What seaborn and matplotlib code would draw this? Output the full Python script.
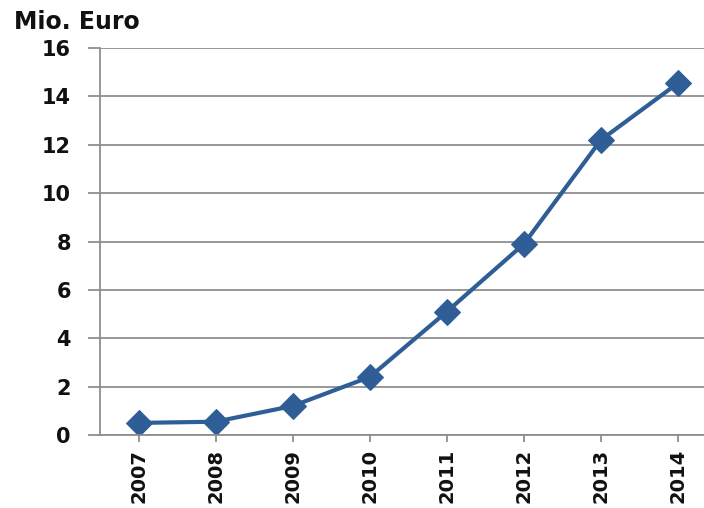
import matplotlib
matplotlib.use("Agg")
import matplotlib.pyplot as plt
import seaborn as sns
import pandas as pd

years = ["2007", "2008", "2009", "2010", "2011", "2012", "2013", "2014"]
values = [0.5, 0.55, 1.2, 2.4, 5.1, 7.9, 12.2, 14.55]
y_ticks = [0, 2, 4, 6, 8, 10, 12, 14, 16]

sns.set_theme(style="white")
plt.rcParams["font.family"] = ["DejaVu Sans"]

df = pd.DataFrame({"pos": range(len(years)), "year": years, "value": values})

fig = plt.figure(figsize=(7.04, 5.08), dpi=100)
ax = fig.add_axes([100 / 704, 1 - 435 / 508, (716.6 - 100) / 704, (435 - 48) / 508])

line_color = "#2f5d96"
grid_color = "#8f8f8f"

sns.lineplot(data=df, x="pos", y="value", ax=ax, color=line_color,
             linewidth=3.0, marker="D", markersize=13,
             markeredgecolor=line_color, markerfacecolor=line_color)

ax.set_xlim(-0.5, len(years) - 0.5)
ax.set_ylim(0, 16)
ax.set_yticks(y_ticks)
ax.set_yticklabels([str(t) for t in y_ticks])
ax.set_xticks(df["pos"])
ax.set_xticklabels(years, rotation=90)

ax.yaxis.grid(True, color=grid_color, linewidth=1.3)
ax.xaxis.grid(False)
ax.set_axisbelow(True)

for side in ("top", "right"):
    ax.spines[side].set_visible(False)
for side in ("left", "bottom"):
    ax.spines[side].set_color(grid_color)
    ax.spines[side].set_linewidth(1.3)

ax.tick_params(axis="y", which="major", left=True, length=9, width=1.3,
               color=grid_color, pad=12, labelsize=15, labelcolor="#111111")
ax.tick_params(axis="x", which="major", bottom=True, length=5, width=1.3,
               color=grid_color, pad=5, labelsize=14, labelcolor="#111111")
for lab in ax.get_xticklabels() + ax.get_yticklabels():
    lab.set_fontweight("bold")

ax.set_xlabel("")
ax.set_ylabel("")

fig.text(14 / 704, 1 - 29 / 508, "Mio. Euro", fontsize=17, fontweight="bold",
         color="#111111", va="baseline", ha="left")

fig.savefig("out.png", dpi=100)
